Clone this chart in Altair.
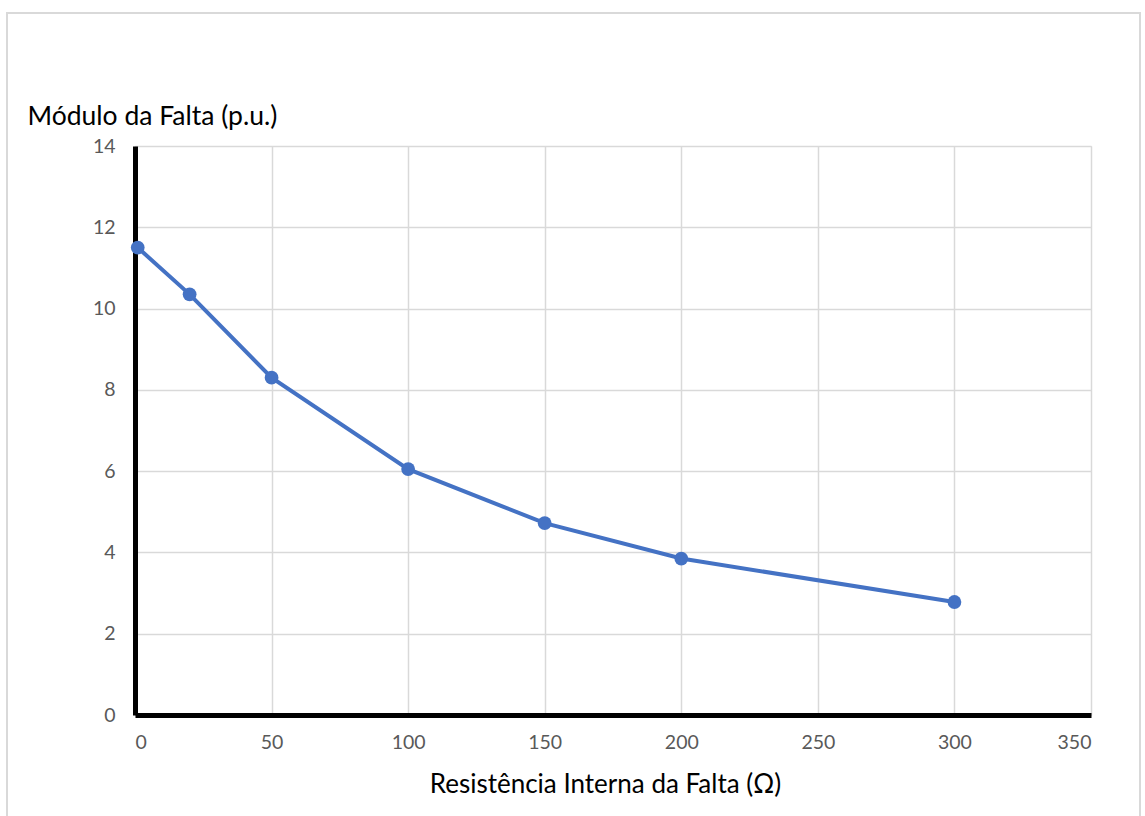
import altair as alt
import pandas as pd

# Fault magnitude vs. internal fault resistance
resistencia = [1, 20, 50, 100, 150, 200, 300]
modulo = [11.5, 10.35, 8.3, 6.05, 4.72, 3.85, 2.78]

x_ticks = [0, 50, 100, 150, 200, 250, 300, 350]
y_ticks = [0, 2, 4, 6, 8, 10, 12, 14]

df = pd.DataFrame({"R": resistencia, "M": modulo})

FONT = "Lato"
BLUE = "#4472C4"
GRID = "#d9d9d9"

x_enc = alt.X(
    "R:Q",
    scale=alt.Scale(domain=[0, 350], nice=False),
    axis=alt.Axis(
        values=x_ticks,
        title="Resistência Interna da Falta (Ω)",
        titleFontSize=26,
        titleFontWeight="normal",
        titleColor="#000000",
        titleX=470,
        titleAlign="center",
        titlePadding=20,
        labelPadding=18,
        labelFontSize=19.5,
        labelColor="#595959",
        domainColor="#000000",
        domainWidth=5,
        ticks=False,
        gridColor=GRID,
        gridWidth=1.5,
    ),
)
y_enc = alt.Y(
    "M:Q",
    scale=alt.Scale(domain=[0, 14], nice=False),
    axis=alt.Axis(
        values=y_ticks,
        title="Módulo da Falta (p.u.)",
        titleAngle=0,
        titleAlign="left",
        titleBaseline="alphabetic",
        titleX=-108,
        titleY=-22,
        titleFontSize=26.5,
        titleFontWeight="normal",
        titleColor="#000000",
        labelPadding=20,
        labelFontSize=19.5,
        labelColor="#595959",
        domainColor="#000000",
        domainWidth=5,
        ticks=False,
        gridColor=GRID,
        gridWidth=1.5,
    ),
)

line = alt.Chart(df).mark_line(color=BLUE, strokeWidth=4).encode(x=x_enc, y=y_enc)
pts = alt.Chart(df).mark_point(filled=True, color=BLUE, size=190, opacity=1).encode(x="R:Q", y="M:Q")

# light frame around the whole figure
frame = alt.Chart(pd.DataFrame({"a": [0]})).mark_rect(
    fill=None, stroke="#d9d9d9", strokeWidth=2
).encode(
    x=alt.value(-128), x2=alt.value(1005), y=alt.value(-133), y2=alt.value(700)
)

chart = (
    alt.layer(frame, line, pts)
    .properties(
        width=956,
        height=569,
        autosize=alt.AutoSizeParams(type="none"),
        padding={"left": 135, "top": 146, "right": 54, "bottom": 101},
        background="white",
    )
    .configure_view(stroke=None)
    .configure(font=FONT)
)

chart.save("out.html", embed_options={"renderer": "svg", "actions": False})
